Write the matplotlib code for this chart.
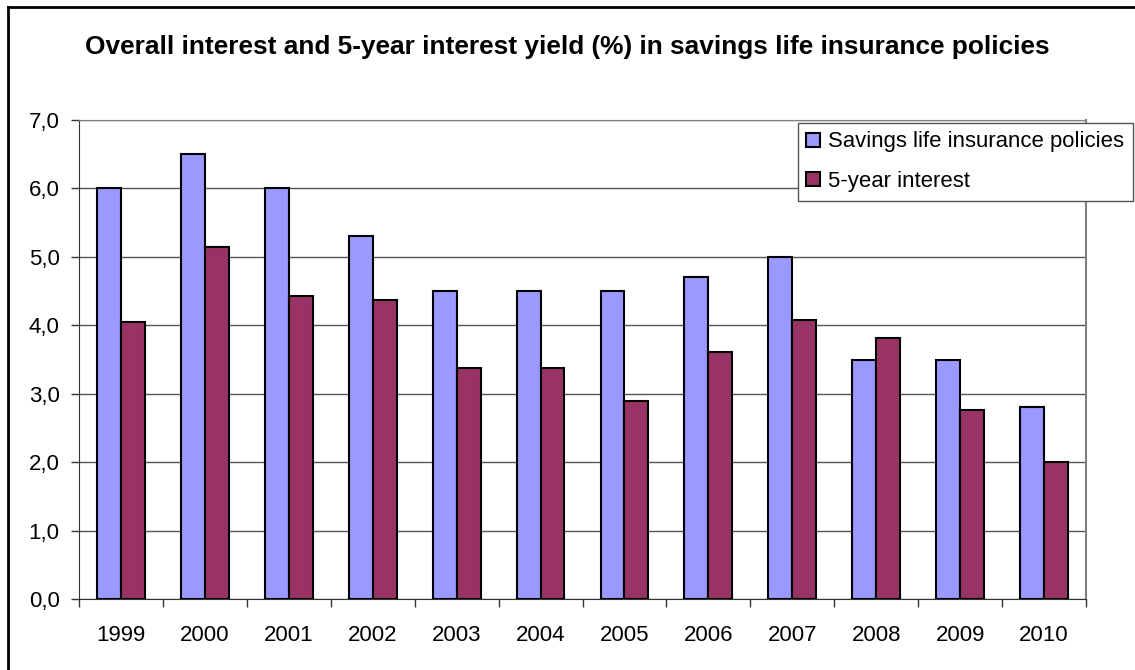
import matplotlib
matplotlib.use('Agg')
import matplotlib.pyplot as plt
import numpy as np
from matplotlib.lines import Line2D
from matplotlib.ticker import FixedLocator, FuncFormatter

years = ['1999', '2000', '2001', '2002', '2003', '2004',
         '2005', '2006', '2007', '2008', '2009', '2010']
savings = [6.0, 6.5, 6.0, 5.3, 4.5, 4.5, 4.5, 4.7, 5.0, 3.5, 3.5, 2.8]
five_year = [4.05, 5.14, 4.43, 4.37, 3.37, 3.37, 2.9, 3.61, 4.08, 3.82, 2.76, 2.0]
yticks = [0, 1, 2, 3, 4, 5, 6, 7]

W, H = 1135, 670
plt.rcParams['font.family'] = ['Liberation Sans', 'DejaVu Sans']

fig = plt.figure(figsize=(W / 100, H / 100), dpi=100)
fig.patch.set_facecolor('white')

# outer chart border (only top and left are in the picture)
fig.add_artist(Line2D([8 / W, 8 / W], [0, 1 - 7 / H], transform=fig.transFigure,
                      color='black', lw=2))
fig.add_artist(Line2D([8 / W, 1], [1 - 7 / H, 1 - 7 / H], transform=fig.transFigure,
                      color='black', lw=2))

fig.text(0.5, 1 - 47 / H,
         'Overall interest and 5-year interest yield (%) in savings life insurance policies',
         ha='center', va='center', fontsize=18.9, fontweight='bold')

ax = fig.add_axes([79 / W, 1 - 599 / H, (1086 - 79) / W, (599 - 120) / H])
x = np.arange(len(years))
bw = 0.285
ax.bar(x - bw / 2, savings, bw, color='#9999FF', edgecolor='black', lw=1.5,
       label='Savings life insurance policies', zorder=3)
ax.bar(x + bw / 2, five_year, bw, color='#993366', edgecolor='black', lw=1.5,
       label='5-year interest', zorder=3)

ax.set_xlim(-0.5, len(years) - 0.5)
ax.set_ylim(0, 7)
ax.yaxis.set_major_locator(FixedLocator(yticks))
ax.yaxis.set_major_formatter(FuncFormatter(lambda v, p: f'{v:.1f}'.replace('.', ',')))
ax.grid(axis='y', color='#555555', lw=1, zorder=0)

ax.set_xticks(x)
ax.set_xticklabels(years)
ax.set_xticks(np.arange(len(years) + 1) - 0.5, minor=True)
ax.tick_params(axis='x', which='major', length=0, pad=19, labelsize=16)
ax.tick_params(axis='x', which='minor', length=6, width=1, color='#333333')
ax.tick_params(axis='y', length=6, width=1, color='#333333', pad=8, labelsize=16)

for s in ['left', 'bottom']:
    ax.spines[s].set_color('#333333')
for s in ['top', 'right']:
    ax.spines[s].set_color('#808080')
ax.spines['right'].set_linewidth(1.5)

leg = fig.legend(loc='upper left', bbox_to_anchor=(798 / W, 1 - 123 / H),
                 fontsize=15.9, frameon=True, fancybox=False, framealpha=1,
                 edgecolor='#555555', handlelength=0.6, handleheight=0.6,
                 handletextpad=0.4, labelspacing=0.85, borderpad=0.38,
                 borderaxespad=0)
leg.get_frame().set_linewidth(1)

fig.savefig('out.png', dpi=100, facecolor='white')
